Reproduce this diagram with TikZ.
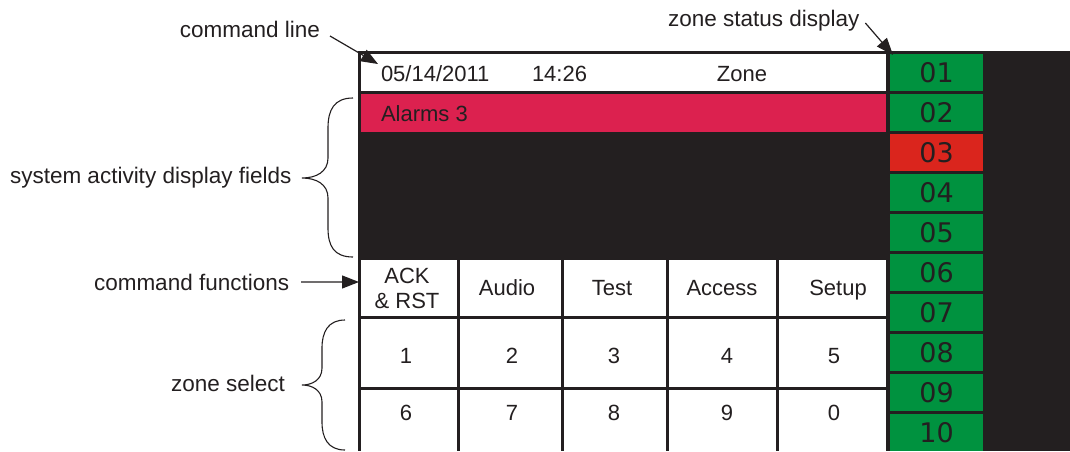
\documentclass[tikz,border=0pt]{standalone}
\usepackage{fontspec}
\setmainfont{Liberation Sans}
\newfontfamily\zonefont{DejaVu Sans}
\usetikzlibrary{arrows.meta}
\definecolor{ink}{HTML}{231F20}
\definecolor{scrblack}{HTML}{231F20}
\definecolor{zgreen}{HTML}{00923F}
\definecolor{zred}{HTML}{DA251D}
\definecolor{alarmpink}{HTML}{DC214F}
\begin{document}
\begin{tikzpicture}[x=1pt,y=-1pt,
  lbl/.style={font=\fontsize{22.5}{26}\selectfont, text=ink, inner sep=0pt, outer sep=0pt},
  scr/.style={font=\fontsize{22}{26}\selectfont, text=ink, inner sep=0pt, outer sep=0pt},
  cellw/.style={fill=white, inner sep=0pt, outer sep=0pt},
  zcell/.style={inner sep=0pt, outer sep=0pt, minimum width=93pt, minimum height=37pt,
                font=\zonefont\fontsize{27}{30}\selectfont, text=ink},
  pointer/.style={draw=ink, line width=1.2pt, -{Triangle[length=17pt,width=13pt]}},
  bracepath/.style={draw=ink, line width=1.1pt}]
\useasboundingbox (0,0) rectangle (1070,451);

% screen background
\fill[scrblack] (357.5,51) rectangle (1070,451);

% command line and alarm field
\node[cellw, minimum width=525pt, minimum height=37pt] (cmdrow) at (623.5,72.5) {};
\node[cellw, fill=alarmpink, minimum width=525pt, minimum height=38pt] (alarmrow) at (623.5,113) {};
\node[scr, anchor=base west] (date) at (381,81) {05/14/2011};
\node[scr, anchor=base west] (time) at (532,81) {14:26};
\node[scr, anchor=base] (zonehdr) at (742,81) {Zone};
\node[scr, anchor=base west] (alarmtxt) at (381,121.5) {Alarms 3};

% command function cells
\foreach \n/\cx/\w in {1/409/96, 2/510.5/101, 3/615/102, 4/722.5/107, 5/832.5/107}{
  \node[cellw, minimum width=\w pt, minimum height=56pt] (f\n) at (\cx,288) {};
  \node[cellw, minimum width=\w pt, minimum height=68pt] (ra\n) at (\cx,353) {};
  \node[cellw, minimum width=\w pt, minimum height=61pt] (rb\n) at (\cx,420.5) {};
}
\node[scr, anchor=base] (ack1) at (407,283) {ACK};
\node[scr, anchor=base] (ack2) at (407,308) {\& RST};
\node[scr, anchor=base] (audio) at (507,295.5) {Audio};
\node[scr, anchor=base] (test) at (612,295.5) {Test};
\node[scr, anchor=base] (access) at (722,295.5) {Access};
\node[scr, anchor=base] (setup) at (838,295) {Setup};

% zone select numbers
\foreach \t/\cx in {1/406, 2/512, 3/614, 4/727, 5/834}{
  \node[scr, anchor=base] (n\t) at (\cx,363) {\t};
}
\foreach \t/\cx in {6/406, 7/512, 8/614, 9/727, 0/834}{
  \node[scr, anchor=base] (n\t) at (\cx,420) {\t};
}

% zone status column
\foreach \k/\t/\c in {1/01/zgreen, 2/02/zgreen, 3/03/zred, 4/04/zgreen, 5/05/zgreen,
                      6/06/zgreen, 7/07/zgreen, 8/08/zgreen, 9/09/zgreen, 10/10/zgreen}{
  \node[zcell, fill=\c] (z\k) at (936.5,{72.5+40*(\k-1)}) {\t};
}

% callouts
\node[lbl, anchor=base east] (lcmd) at (320,37) {command line};
\coordinate (tipcmd) at (378,64);
\draw[pointer] ([shift={(10,-1)}]lcmd.base east) -- (tipcmd);

\node[lbl, anchor=base west] (lzone) at (668,26) {zone status display};
\coordinate (tipzone) at (893,55);
\draw[pointer] ([shift={(6,-3)}]lzone.base east) -- (tipzone);

\node[lbl, anchor=base west] (lfunc) at (94,290) {command functions};
\coordinate (tipfunc) at (359,282);
\draw[pointer] ([xshift=12pt]lfunc.east) -- (tipfunc);

\node[lbl, anchor=base west] (lsys) at (10,183) {system activity display fields};
\coordinate (bsys) at (302,178);
\draw[bracepath] (353,98) .. controls (334,98) and (328,110) .. (328,128) -- (328,158)
  .. controls (328,172) and (316,178) .. (bsys)
  .. controls (316,178) and (328,184) .. (328,198) -- (328,228)
  .. controls (328,246) and (334,257) .. (353,257);

\node[lbl, anchor=base east] (lzs) at (285,391) {zone select};
\coordinate (bzs) at (302,385);
\draw[bracepath] (345,320) .. controls (328,320) and (322,332) .. (322,348) -- (322,368)
  .. controls (322,380) and (312,385) .. (bzs)
  .. controls (312,385) and (322,390) .. (322,402) -- (322,422)
  .. controls (322,438) and (328,450) .. (345,450);
\end{tikzpicture}
\end{document}
